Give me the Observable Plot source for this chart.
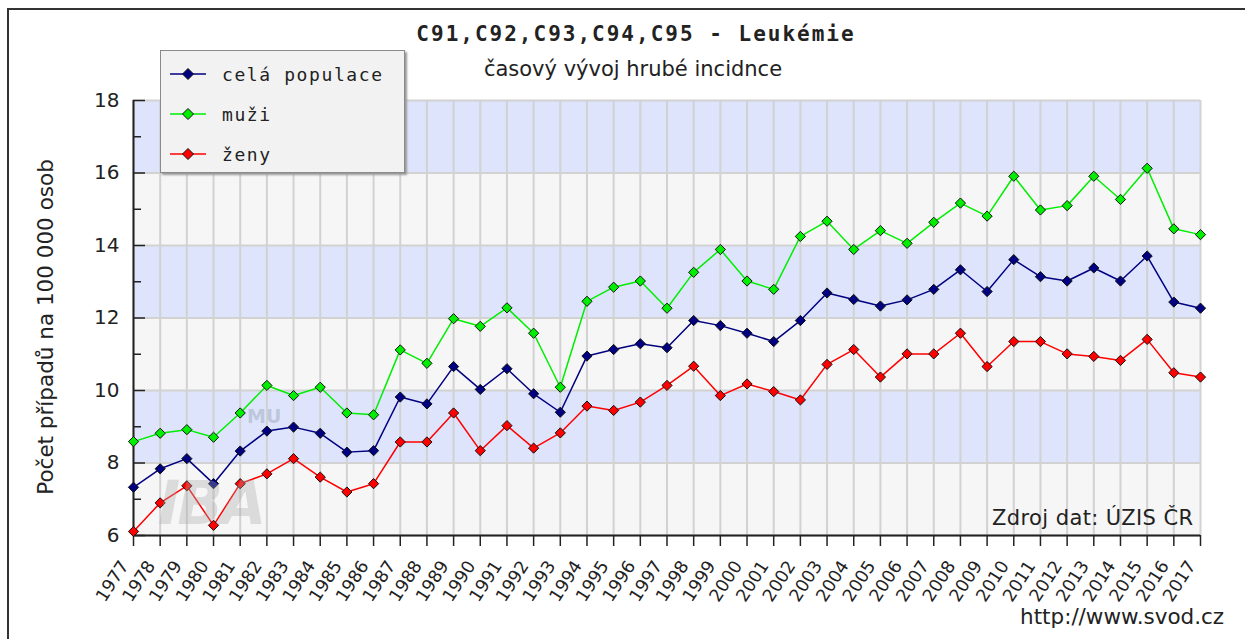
<!DOCTYPE html>
<html><head><meta charset="utf-8">
<script src="https://cdn.jsdelivr.net/npm/d3@7"></script>
<script src="https://cdn.jsdelivr.net/npm/@observablehq/plot@0.6"></script>
<style>
body{margin:0;background:#fff;}
#wrap{position:relative;width:1245px;height:639px;overflow:hidden;font-family:"DejaVu Sans",sans-serif;color:#222;}
#chart{position:absolute;left:0;top:0;}
#frame{position:absolute;left:7px;top:8px;width:1300px;height:700px;border-left:2px solid #333;border-top:2px solid #333;}
#title{position:absolute;left:336px;width:600px;top:22px;text-align:center;font:bold 21px "DejaVu Sans Mono",monospace;letter-spacing:2px;white-space:nowrap;}
#subtitle{position:absolute;left:333px;width:600px;top:57px;text-align:center;font:21px "DejaVu Sans",sans-serif;white-space:nowrap;}
#ylabel{position:absolute;left:45px;top:327px;transform:translate(-50%,-50%) rotate(-90deg);font:21.5px "DejaVu Sans",sans-serif;white-space:nowrap;}
#legend{position:absolute;left:160px;top:50px;width:243px;height:121px;background:#f2f2f2;border:1px solid #8a8a8a;box-shadow:2px 2px 2px #999;}
.lrow{position:absolute;left:9px;height:22px;display:flex;align-items:center;font:18px "DejaVu Sans Mono",monospace;letter-spacing:1.6px;white-space:nowrap;}
.lrow svg{margin-right:16px;}
#src{position:absolute;left:992px;top:506px;font:21px "DejaVu Sans",sans-serif;white-space:nowrap;letter-spacing:0.4px;}
#url{position:absolute;left:1020px;top:604px;font:21.5px "DejaVu Sans",sans-serif;white-space:nowrap;}
#wm1{position:absolute;left:247px;top:405px;font:bold 19px "DejaVu Sans",sans-serif;color:rgba(150,160,180,0.45);}
#wm2{position:absolute;left:158px;top:468px;font:italic bold 60px "DejaVu Sans",sans-serif;color:rgba(170,170,170,0.35);letter-spacing:-3px;}
</style></head>
<body>
<div id="wrap">
  <div id="chart"></div>
  <div id="frame"></div>
  <div id="wm1">MU</div>
  <div id="wm2">IBA</div>
  <div id="title">C91,C92,C93,C94,C95 - Leukémie</div>
  <div id="subtitle">časový vývoj hrubé incidnce</div>
  <div id="ylabel">Počet případů na 100 000 osob</div>
  <div id="legend"></div>
  <div id="src">Zdroj dat: ÚZIS ČR</div>
  <div id="url">http://www.svod.cz</div>
</div>
<script>
const years = [1977,1978,1979,1980,1981,1982,1983,1984,1985,1986,1987,1988,1989,1990,1991,1992,1993,1994,1995,1996,1997,1998,1999,2000,2001,2002,2003,2004,2005,2006,2007,2008,2009,2010,2011,2012,2013,2014,2015,2016,2017];
const cela = [7.33,7.84,8.12,7.43,8.33,8.88,8.99,8.82,8.30,8.34,9.82,9.63,10.66,10.03,10.60,9.91,9.40,10.95,11.13,11.29,11.18,11.93,11.79,11.58,11.35,11.93,12.69,12.51,12.33,12.50,12.79,13.33,12.73,13.61,13.14,13.02,13.38,13.02,13.71,12.44,12.27];
const muzi = [8.59,8.82,8.92,8.71,9.38,10.14,9.86,10.09,9.38,9.33,11.12,10.75,11.98,11.77,12.28,11.58,10.09,12.46,12.85,13.02,12.27,13.26,13.89,13.02,12.79,14.25,14.67,13.89,14.41,14.06,14.64,15.17,14.81,15.91,14.98,15.10,15.91,15.27,16.13,14.46,14.30];
const zeny = [6.11,6.90,7.37,6.28,7.43,7.70,8.12,7.61,7.20,7.43,8.58,8.58,9.38,8.34,9.03,8.41,8.83,9.57,9.45,9.68,10.14,10.67,9.86,10.18,9.97,9.74,10.72,11.13,10.37,11.01,11.01,11.58,10.66,11.35,11.35,11.01,10.94,10.83,11.41,10.49,10.37];
const seriesNames = ["celá populace","muži","ženy"];
const yTicks = [6,8,10,12,14,16,18];
const yMinor = [7,9,11,13,15,17];
const bandLo = [6,8,10,12,14,16];

const seriesColors = ["#000080","#00ee00","#ff0000"];
const seriesValues = [cela, muzi, zeny];
const tables = seriesValues.map(arr => years.map((y,i)=>({year:y, value:arr[i]})));

const seriesMarks = [];
tables.forEach((t,k)=>{
  seriesMarks.push(Plot.line(t,{x:"year",y:"value",stroke:seriesColors[k],strokeWidth:1.5}));
});
tables.forEach((t,k)=>{
  seriesMarks.push(Plot.dot(t,{x:"year",y:"value",symbol:"diamond2",r:4.6,fill:seriesColors[k],stroke:"#111",strokeWidth:1}));
});

const chart = Plot.plot({
  width:1245, height:639,
  marginLeft:133, marginRight:45, marginTop:100, marginBottom:104,
  style:{fontFamily:"DejaVu Sans", fontSize:"16px", color:"#222", background:"transparent"},
  x:{domain:[years[0], years[years.length-1]]},
  y:{domain:[yTicks[0], yTicks[yTicks.length-1]]},
  marks:[
    Plot.rect(bandLo,{filter:(d,i)=>i%2===0, x1:()=>years[0], x2:()=>years[years.length-1], y1:d=>d, y2:d=>d+2, fill:"#f6f6f6"}),
    Plot.rect(bandLo,{filter:(d,i)=>i%2===1, x1:()=>years[0], x2:()=>years[years.length-1], y1:d=>d, y2:d=>d+2, fill:"#dde4fb"}),
    Plot.ruleX(years,{stroke:"#d2d2d2",strokeWidth:2}),
    Plot.ruleY(yTicks,{stroke:"#d2d2d2",strokeWidth:2}),
    Plot.ruleX([years[0]],{stroke:"#222",strokeWidth:2}),
    Plot.ruleY([yTicks[0]],{stroke:"#222",strokeWidth:2}),
    Plot.axisX(years,{tickSize:11, tickFormat:()=>"", label:null, stroke:"#222", strokeWidth:1.5}),
    Plot.axisX(years,{tickSize:0, tickPadding:27, dx:-9, tickRotate:-57, tickFormat:d=>String(d), fontSize:17.5, label:null}),
    Plot.axisY(yTicks,{tickSize:0, tickPadding:14, fontSize:20, label:null}),
    Plot.axisY(yTicks,{tickSize:-12, tickFormat:()=>"", label:null, stroke:"#222", strokeWidth:1.5}),
    Plot.axisY(yMinor,{tickSize:-8, tickFormat:()=>"", label:null, stroke:"#222", strokeWidth:1.5}),
    ...seriesMarks
  ]
});
document.getElementById("chart").appendChild(chart);

const legend = document.getElementById("legend");
seriesNames.forEach((name,k)=>{
  const row = document.createElement("div");
  row.className = "lrow";
  row.style.top = (12 + k*40) + "px";
  row.innerHTML = `<svg width="36" height="14" viewBox="0 0 36 14"><line x1="0" y1="7" x2="36" y2="7" stroke="${seriesColors[k]}" stroke-width="1.5"/><path d="M18,1.5L23.5,7L18,12.5L12.5,7Z" fill="${seriesColors[k]}" stroke="#111" stroke-width="1"/></svg><span>${name}</span>`;
  legend.appendChild(row);
});
</script>
</body></html>
